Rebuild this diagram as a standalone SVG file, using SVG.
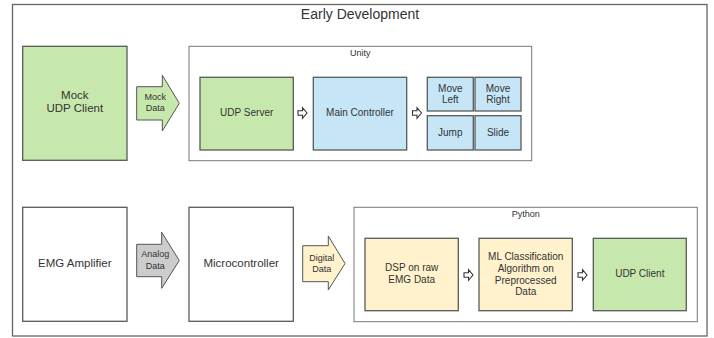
<svg xmlns="http://www.w3.org/2000/svg" xmlns:xlink="http://www.w3.org/1999/xlink" width="714" height="338" viewBox="0 0 714 338">
<style>
text{font-family:"Liberation Sans",Arial,sans-serif;fill:#333;text-anchor:middle;dominant-baseline:central}
.frame{fill:#fff;stroke:#666;stroke-width:1.3}
.cont{fill:#fff;stroke:#777;stroke-width:1}
.box{stroke:#5a5a5a;stroke-width:1.3}
.green{fill:#c7e8ac}
.blue{fill:#c6e6f7}
.yellow{fill:#fff2cc}
.gray{fill:#cccccc}
.white{fill:#fff}
.big{font-size:11.5px}
.med{font-size:10px}
.sm{font-size:9px}
.arrow{stroke:#555;stroke-width:1}
.harrow{fill:#fff;stroke:#333;stroke-width:1.1}
</style>
<defs>
<path id="ha" d="M-4.5,-2.2 H0 V-5.3 L4.5,0 L0,5.3 V2.2 H-4.5 Z"/>
</defs>
<rect class="frame" x="12.5" y="4.5" width="694.5" height="331.5"/>
<text x="360" y="14" style="font-size:14px">Early Development</text>

<g id="mock-udp-client">
<rect class="box green" x="22.7" y="46.3" width="104.3" height="114"/>
<text class="big" x="74.8" y="95">Mock</text>
<text class="big" x="74.8" y="108">UDP Client</text>
</g>

<g id="unity">
<rect class="cont" x="189" y="46.3" width="342.7" height="114.4"/>
<text class="sm" x="360.3" y="53.3">Unity</text>
</g>
<g id="udp-server">
<rect class="box green" x="200" y="77.3" width="93.3" height="72.7"/>
<text class="med" x="246.7" y="112.3">UDP Server</text>
</g>
<g id="main-controller">
<rect class="box blue" x="313.3" y="77.3" width="93.4" height="72.7"/>
<text class="med" x="360" y="112.3">Main Controller</text>
</g>
<g id="move-left">
<rect class="box blue" x="427.3" y="77.3" width="46" height="33.7"/>
<text class="med" x="450.3" y="88">Move</text>
<text class="med" x="450.3" y="99.3">Left</text>
</g>
<g id="move-right">
<rect class="box blue" x="475" y="77.3" width="46" height="33.7"/>
<text class="med" x="498" y="88">Move</text>
<text class="med" x="498" y="99.3">Right</text>
</g>
<g id="jump">
<rect class="box blue" x="427.3" y="115.7" width="46" height="34.3"/>
<text class="med" x="450.3" y="132.3">Jump</text>
</g>
<g id="slide">
<rect class="box blue" x="475" y="115.7" width="46" height="34.3"/>
<text class="med" x="498" y="132.3">Slide</text>
</g>

<g id="emg-amplifier">
<rect class="box white" x="22.7" y="207.3" width="104.3" height="114"/>
<text class="big" x="74.8" y="262.7">EMG Amplifier</text>
</g>
<g id="microcontroller">
<rect class="box white" x="189" y="207.3" width="104.3" height="114"/>
<text class="big" x="241.2" y="262.7">Microcontroller</text>
</g>

<g id="python">
<rect class="cont" x="354" y="207.3" width="343.3" height="114.4"/>
<text class="sm" x="525.7" y="214.3">Python</text>
</g>
<g id="dsp">
<rect class="box yellow" x="365" y="238.3" width="93.3" height="72.4"/>
<text class="med" x="411.7" y="267.7">DSP on raw</text>
<text class="med" x="411.7" y="279.3">EMG Data</text>
</g>
<g id="ml-classification">
<rect class="box yellow" x="479" y="238.3" width="93.3" height="72.4"/>
<text class="med" x="525.7" y="256.7">ML Classification</text>
<text class="med" x="525.7" y="268.5">Algorithm on</text>
<text class="med" x="525.7" y="280">Preprocessed</text>
<text class="med" x="525.7" y="291.3">Data</text>
</g>
<g id="udp-client">
<rect class="box green" x="593.3" y="238.3" width="93" height="72.4"/>
<text class="med" x="639.8" y="273.3">UDP Client</text>
</g>

<g id="connectors">
<g id="mock-data-arrow">
<polygon class="arrow green" points="136.7,86.7 162.3,86.7 162.3,75.3 179.3,103.3 162.3,131 162.3,120 136.7,120"/>
<text class="sm" x="155.3" y="97">Mock</text>
<text class="sm" x="155.3" y="108.3">Data</text>
</g>
<g id="analog-data-arrow">
<polygon class="arrow gray" points="136.7,244.3 161.7,244.3 161.7,232.3 179.3,260.5 161.7,288.3 161.7,276.7 136.7,276.7"/>
<text class="sm" x="155.3" y="254">Analog</text>
<text class="sm" x="155.3" y="265.7">Data</text>
</g>
<g id="digital-data-arrow">
<polygon class="arrow yellow" points="302.7,245.7 328.3,245.7 328.3,236 345,263.5 328.3,290 328.3,281.7 302.7,281.7"/>
<text class="sm" x="321.8" y="257.7">Digital</text>
<text class="sm" x="321.8" y="269.3">Data</text>
</g>
<use href="#ha" class="harrow" transform="translate(302.5,113)"/>
<use href="#ha" class="harrow" transform="translate(417,113)"/>
<use href="#ha" class="harrow" transform="translate(468.5,275)"/>
<use href="#ha" class="harrow" transform="translate(582.5,275)"/>
</g>
</svg>
